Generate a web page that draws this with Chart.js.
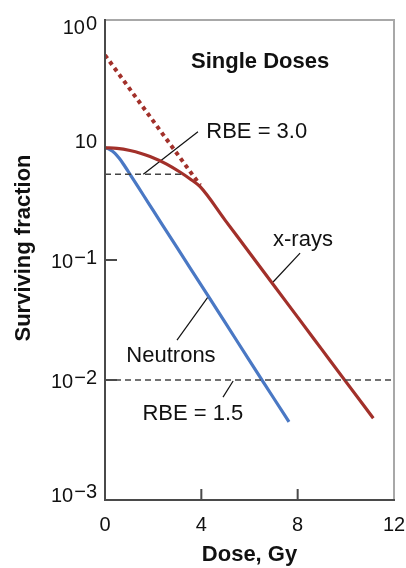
<!DOCTYPE html>
<html>
<head>
<meta charset="utf-8">
<script src="https://cdn.jsdelivr.net/npm/chart.js@4.4.1/dist/chart.umd.min.js"></script>
<style>
  html, body { margin: 0; padding: 0; background: #fff; }
  canvas { display: block; }
</style>
</head>
<body>
<canvas id="chart" width="406" height="568"></canvas>
<script>
// survival curves (dose in Gy, surviving fraction)
const neutronDose = [0, 0.2, 0.415, 0.6, 0.76, 1.04, 1.59, 2, 3, 4, 5, 6, 7, 7.64];
const neutronSurvival = [0.861, 0.832, 0.774, 0.70, 0.631, 0.518, 0.348, 0.259, 0.126, 0.0614, 0.0299, 0.0145, 0.00708, 0.00447];

const xrayDose = [0, 0.5, 1.04, 1.5, 1.87, 2.56, 3.11, 3.55, 3.95, 5, 6, 7, 8, 9, 10, 11.14];
const xraySurvival = [0.861, 0.851, 0.817, 0.773, 0.728, 0.63, 0.541, 0.471, 0.408, 0.213, 0.115, 0.0619, 0.0334, 0.018, 0.0097, 0.0048];

// dotted back-extrapolation of the x-ray curve
const extrapDose = [0, 3.95];
const extrapSurvival = [5.1, 0.42];

// dashed iso-effect levels
const rbe3Dose = [0, 3.24];
const rbe3Level = [0.518, 0.518];
const rbe15Dose = [0, 12];
const rbe15Level = [0.01, 0.01];

// axis ticks
const xTicks = [0, 4, 8, 12];
const xInnerTicks = [4, 8];
const yTickValues = [10, 1, 0.1, 0.01, 0.001];
const yTickBase = ["10", "10", "10", "10", "10"];
const yTickExp = ["0", "", "\u22121", "\u22122", "\u22123"];
const yInnerTicks = [0.1, 0.01];

// labels and their leader lines (data units)
const labels = [
    { text: "Single Doses", x: 6.44, y: 4.47, bold: true },
    { text: "RBE = 3.0", x: 6.3, y: 1.17 },
    { text: "x-rays", x: 8.22, y: 0.147 },
    { text: "Neutrons", x: 2.74, y: 0.0158 },
    { text: "RBE = 1.5", x: 3.65, y: 0.0052 },
];
const leaders = [
    [[3.86, 1.17], [1.59, 0.518]],
    [[8.1, 0.114], [6.98, 0.0656]],
    [[2.99, 0.0215], [4.28, 0.0492]],
    [[4.9, 0.0072], [5.32, 0.0098]],
];

const red = "#a2302a";
const blue = "#4a78c4";

function pts(xs, ys) {
    return xs.map((v, i) => ({ x: v, y: ys[i] }));
}

const datasets = [
    { data: pts(rbe3Dose, rbe3Level), borderColor: "#444", borderWidth: 1.5, borderDash: [6, 4] },
    { data: pts(rbe15Dose, rbe15Level), borderColor: "#444", borderWidth: 1.5, borderDash: [6, 4] },
    { data: pts(extrapDose, extrapSurvival), borderColor: red, borderWidth: 4, borderDash: [4, 4] },
    { data: pts(xrayDose, xraySurvival), borderColor: red, borderWidth: 3.2, cubicInterpolationMode: "monotone" },
    { data: pts(neutronDose, neutronSurvival), borderColor: blue, borderWidth: 3.2, cubicInterpolationMode: "monotone" },
];
leaders.forEach(l => {
    datasets.push({ data: l.map(p => ({ x: p[0], y: p[1] })), borderColor: "#111", borderWidth: 1.2 });
});

const FONT = "'Liberation Sans', Arial, sans-serif";

const overlay = {
    id: "overlay",
    afterDatasetsDraw(chart) {
        const { ctx, chartArea: a, scales: { x, y } } = chart;
        ctx.save();

        // frame: light top/right, dark left/bottom
        ctx.lineWidth = 2;
        ctx.strokeStyle = "#a8a8a8";
        ctx.beginPath();
        ctx.moveTo(a.left, a.top);
        ctx.lineTo(a.right, a.top);
        ctx.lineTo(a.right, a.bottom);
        ctx.stroke();
        ctx.strokeStyle = "#4a4a4a";
        ctx.beginPath();
        ctx.moveTo(a.left, a.top - 1);
        ctx.lineTo(a.left, a.bottom);
        ctx.lineTo(a.right + 1, a.bottom);
        ctx.stroke();

        // inward ticks
        ctx.beginPath();
        xInnerTicks.forEach(v => {
            const px = x.getPixelForValue(v);
            ctx.moveTo(px, a.bottom);
            ctx.lineTo(px, a.bottom - 11);
        });
        yInnerTicks.forEach(v => {
            const py = y.getPixelForValue(v);
            ctx.moveTo(a.left, py);
            ctx.lineTo(a.left + 12, py);
        });
        ctx.stroke();

        // x tick labels
        ctx.fillStyle = "#111";
        ctx.font = "20px " + FONT;
        ctx.textAlign = "center";
        ctx.textBaseline = "middle";
        xTicks.forEach(v => {
            ctx.fillText(String(v), x.getPixelForValue(v), a.bottom + 25);
        });

        // y tick labels with raised exponent
        ctx.textAlign = "right";
        yTickValues.forEach((v, i) => {
            let py = y.getPixelForValue(v) + 2;
            py = Math.min(Math.max(py, a.top + 8), a.bottom - 4);
            const right = a.left - 8;
            let w = 0;
            if (yTickExp[i]) {
                ctx.fillText(yTickExp[i], right, py - 4);
                w = ctx.measureText(yTickExp[i]).width + 1;
            }
            ctx.fillText(yTickBase[i], right - w, py);
        });

        // axis titles
        ctx.font = "bold 22px " + FONT;
        ctx.textAlign = "center";
        ctx.fillText("Dose, Gy", (a.left + a.right) / 2, a.bottom + 55);
        ctx.save();
        ctx.translate(24, 248);
        ctx.rotate(-Math.PI / 2);
        ctx.fillText("Surviving fraction", 0, 0);
        ctx.restore();

        // annotations
        labels.forEach(l => {
            ctx.font = (l.bold ? "bold " : "") + "22px " + FONT;
            ctx.fillText(l.text, x.getPixelForValue(l.x), y.getPixelForValue(l.y));
        });

        ctx.restore();
    }
};

new Chart(document.querySelector("#chart").getContext("2d"), {
    type: "line",
    data: { datasets: datasets },
    options: {
        responsive: false,
        animation: false,
        devicePixelRatio: 1,
        layout: { padding: { left: 105, top: 20, right: 12, bottom: 68 } },
        elements: { point: { radius: 0 }, line: { fill: false } },
        plugins: { legend: { display: false }, tooltip: { enabled: false } },
        scales: {
            x: { type: "linear", min: 0, max: 12, display: false },
            y: { type: "logarithmic", min: 0.001, max: 10, display: false },
        },
    },
    plugins: [overlay],
});
</script>
</body>
</html>
